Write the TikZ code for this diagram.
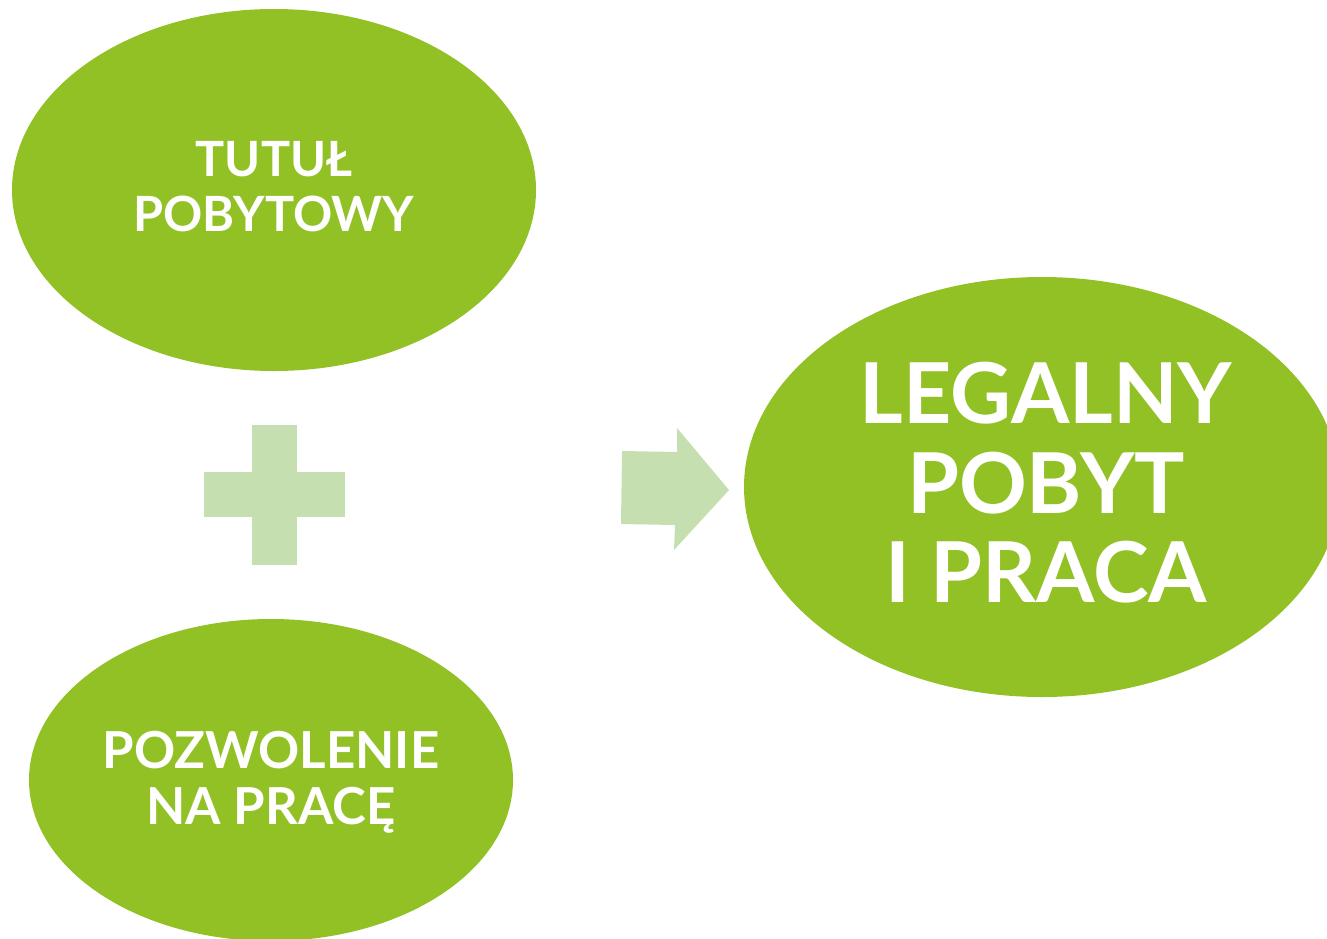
\documentclass[tikz,border=0pt]{standalone}
\usepackage{fontspec}
\setmainfont{Lato}
\usepackage{tikz}
\usetikzlibrary{shapes.geometric}

\definecolor{leafgreen}{RGB}{146,193,38}
\definecolor{palegreen}{RGB}{198,223,176}

\tikzset{
  blob/.style={text=white, align=center, inner sep=0pt},
  pale/.style={fill=palegreen}
}

\begin{document}
\begin{tikzpicture}[x=0.5pt, y=-0.5pt]
  \useasboundingbox (0,0) rectangle (1327,938);
  \clip (0,0) rectangle (1327,938);
  % ellipses
  \fill[leafgreen] (274,190) ellipse (262 and 181);
  \fill[leafgreen] (271,780) ellipse (242 and 161);
  \fill[leafgreen] (1042,487) ellipse (298 and 210);
  % plus
  \fill[pale] (252,425) rectangle (297,565);
  \fill[pale] (204,472) rectangle (345,517);
  % arrow
  \fill[pale] (622,451) -- (677,452) -- (677,428) -- (729,490) -- (674,550)
    -- (675,525) -- (621,524) -- cycle;
  % labels
  \node[blob, font=\fontsize{24.3}{27.5}\selectfont\bfseries] (resid) at (274,187) {TUTUŁ\\POBYTOWY};
  \node[blob, font=\fontsize{25.5}{28}\selectfont\bfseries] (permit) at (271,782) {POZWOLENIE\\NA PRACĘ};
  \node[blob, font=\fontsize{42}{44.7}\selectfont\bfseries] (legal) at (1046,483) {LEGALNY\\POBYT\\I PRACA};
\end{tikzpicture}
\end{document}
